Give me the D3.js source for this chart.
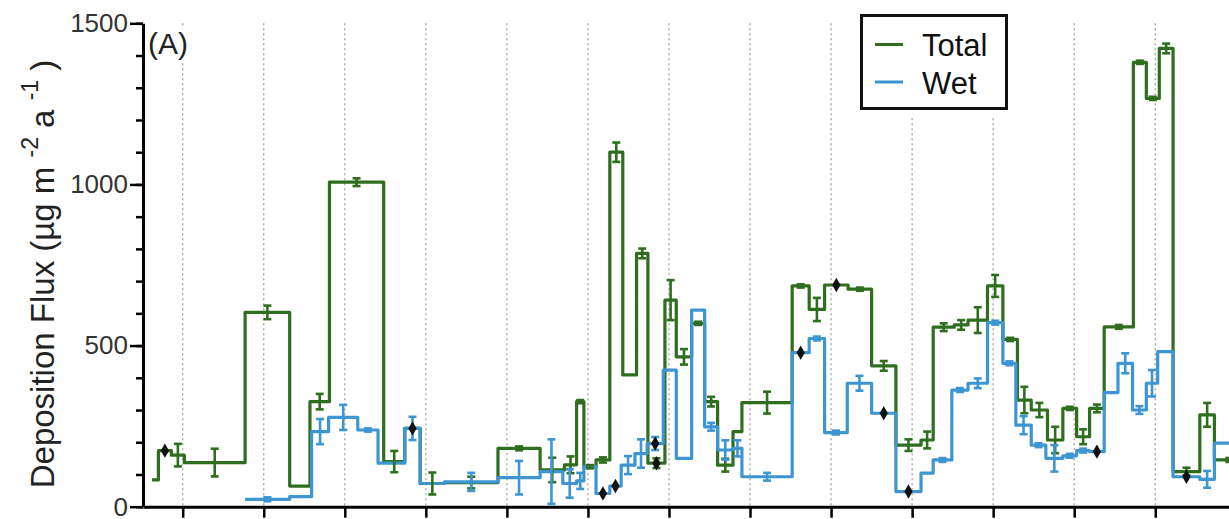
<html>
<head>
<meta charset="utf-8">
<title>Deposition Flux</title>
<script src="https://d3js.org/d3.v7.min.js"></script>
<style>
  body { margin: 0; background: white; }
  text { font-family: "Liberation Sans", Arial, sans-serif; }
</style>
</head>
<body>
<svg width="1229" height="519"></svg>
<script>
// step edges (x units, one tick = 10) and levels for each series
const totalEdges = [-3.8, -3.0, -1.4, 0.2, 7.7, 13.2, 15.7, 18.1, 24.8, 27.4, 29.3, 32.3, 38.9, 44.1, 47.1, 48.6, 49.5, 51.0, 52.7, 54.3, 56.0, 57.4, 59.5, 60.9, 62.8, 64.4, 66.0, 67.9, 69.0, 75.2, 77.3, 79.2, 82.1, 85.0, 88.0, 91.1, 92.6, 95.2, 96.9, 99.3, 101.2, 103.0, 104.7, 106.7, 108.6, 110.3, 111.9, 113.7, 117.3, 118.9, 120.5, 122.2, 125.5, 127.3, 131];
const totalFlux = [83, 174, 160, 137, 603, 64, 326, 1007, 140, 243, 72, 75, 181, 114, 130, 326, 124, 145, 1100, 409, 786, 135, 641, 465, 569, 326, 129, 233, 323, 685, 612, 688, 675, 437, 191, 207, 557, 564, 579, 685, 519, 331, 300, 207, 305, 217, 305, 558, 1379, 1267, 1422, 109, 285, 145];
const totalErr = [0, 0, 35, 43, 21, 0, 24, 12, 33, 0, 34, 18, 6, 38, 26, 5, 5, 8, 30, 0, 15, 15, 62, 24, 5, 15, 20, 0, 34, 5, 36, 0, 5, 15, 18, 26, 12, 15, 40, 34, 5, 41, 22, 41, 5, 23, 12, 6, 5, 5, 15, 12, 37, 6];
const totalDots = [1, 21, 31];

const wetEdges = [7.7, 13.2, 15.9, 18.0, 21.6, 24.1, 27.4, 29.3, 32.3, 38.9, 44.1, 46.9, 48.6, 49.5, 51.0, 52.7, 54.1, 55.8, 57.3, 59.3, 60.9, 62.8, 64.4, 66.0, 67.9, 69.0, 75.2, 77.3, 79.2, 82.0, 85.0, 88.0, 91.1, 92.6, 94.9, 96.9, 99.3, 101.2, 102.8, 104.7, 106.5, 108.6, 110.3, 111.9, 113.7, 115.4, 117.2, 118.9, 120.3, 122.2, 125.5, 127.3, 131];
const wetFlux = [23, 31, 233, 277, 238, 135, 243, 72, 77, 90, 109, 72, 80, 124, 41, 64, 129, 165, 196, 424, 150, 610, 248, 176, 181, 93, 478, 522, 230, 383, 290, 47, 104, 145, 362, 383, 571, 445, 253, 191, 150, 158, 174, 171, 354, 445, 300, 383, 481, 93, 85, 197];
const wetErr = [6, 0, 39, 39, 5, 0, 36, 0, 28, 52, 100, 44, 25, 0, 0, 0, 28, 44, 20, 0, 0, 0, 12, 30, 25, 12, 0, 6, 6, 23, 0, 0, 0, 6, 6, 15, 6, 6, 28, 6, 41, 6, 6, 0, 0, 31, 12, 41, 0, 0, 26, 0];
const wetDots = [6, 14, 15, 18, 26, 30, 31, 43, 49];

const yTicks = [0, 500, 1000, 1500];
const xTicks = d3.range(0, 121, 10);
const seriesNames = ["Total", "Wet"];
const colors = {Total: "#2f6e1f", Wet: "#3d96d2"};

const svg = d3.select("svg");
const x = d3.scaleLinear().domain([-4.9, 129.1]).range([143, 1229]);
const y = d3.scaleLinear().domain([0, 1500]).range([506.7, 23.3]);

svg.append("clipPath").attr("id", "plot")
  .append("rect").attr("x", 143).attr("y", 0).attr("width", 1090).attr("height", 519);

// dotted vertical grid
svg.append("g").selectAll("line").data(xTicks).enter().append("line")
  .attr("x1", d => x(d)).attr("x2", d => x(d))
  .attr("y1", y(1500)).attr("y2", y(0))
  .attr("stroke", "#9a9a9a").attr("stroke-width", 1.2)
  .attr("stroke-dasharray", "2,3");

function build(edges, flux, err) {
  return flux.map((v, i) => ({x0: edges[i], x1: edges[i + 1], v: v, e: err[i]}));
}
const total = build(totalEdges, totalFlux, totalErr);
const wet = build(wetEdges, wetFlux, wetErr);

const step = d3.line().curve(d3.curveStepAfter).x(d => x(d[0])).y(d => y(d[1]));
function pts(s) {
  const p = s.map(d => [d.x0, d.v]);
  p.push([s[s.length - 1].x1, s[s.length - 1].v]);
  return p;
}

const g = svg.append("g").attr("clip-path", "url(#plot)");
g.append("path").attr("d", step(pts(total))).attr("fill", "none")
  .attr("stroke", colors.Total).attr("stroke-width", 3.2).attr("stroke-linejoin", "round");
g.append("path").attr("d", step(pts(wet))).attr("fill", "none")
  .attr("stroke", colors.Wet).attr("stroke-width", 3.2).attr("stroke-linejoin", "round");

function errBars(s, col) {
  const eb = g.append("g").selectAll("g").data(s.filter(d => d.e > 0)).enter().append("g")
    .attr("stroke", col).attr("stroke-width", 2.6);
  const cx = d => x((d.x0 + d.x1) / 2);
  eb.append("line").attr("x1", cx).attr("x2", cx)
    .attr("y1", d => y(d.v - d.e)).attr("y2", d => y(d.v + d.e));
  eb.append("line").attr("x1", d => cx(d) - 4).attr("x2", d => cx(d) + 4)
    .attr("y1", d => y(d.v - d.e)).attr("y2", d => y(d.v - d.e));
  eb.append("line").attr("x1", d => cx(d) - 4).attr("x2", d => cx(d) + 4)
    .attr("y1", d => y(d.v + d.e)).attr("y2", d => y(d.v + d.e));
}
errBars(total, colors.Total);
errBars(wet, colors.Wet);

const dots = totalDots.map(i => total[i]).concat(wetDots.map(i => wet[i]));
g.append("g").selectAll("path").data(dots).enter().append("path")
  .attr("d", d3.symbol().type(d3.symbolDiamond).size(60))
  .attr("transform", d => `translate(${x((d.x0 + d.x1) / 2)},${y(d.v)})`)
  .attr("fill", "#111");

// axes
const yAxis = svg.append("g").attr("transform", "translate(143,0)")
  .call(d3.axisLeft(y).tickValues(yTicks).tickSize(13).tickSizeOuter(0).tickPadding(2)
    .tickFormat(d3.format("d")));
svg.append("g").attr("transform", "translate(143,0)")
  .call(d3.axisLeft(y).tickValues(d3.range(0, 1501, 100)).tickSize(7).tickFormat(""))
  .select(".domain").remove();
yAxis.selectAll("text").attr("font-size", 26).attr("fill", "#333")
  .attr("font-family", "'Liberation Sans', Arial, sans-serif");
svg.append("g").attr("transform", "translate(0,506.7)")
  .call(d3.axisBottom(x).tickValues(xTicks).tickSize(11).tickSizeOuter(0).tickFormat(""));
svg.selectAll(".domain").attr("stroke-width", 3);
svg.selectAll(".tick line").attr("stroke-width", 2.5);

// y label
const yl = svg.append("text").attr("transform", "translate(54,274) rotate(-90)")
  .attr("text-anchor", "middle").attr("font-size", 33).attr("fill", "#222");
yl.append("tspan").text("Deposition Flux (µg m ");
yl.append("tspan").attr("dy", -16).attr("font-size", 23).text("-2");
yl.append("tspan").attr("dy", 16).text(" a ");
yl.append("tspan").attr("dy", -16).attr("font-size", 23).text("-1");
yl.append("tspan").attr("dy", 16).text(" )");

// panel tag
svg.append("rect").attr("x", 147).attr("y", 26).attr("width", 50).attr("height", 36).attr("fill", "white");
svg.append("text").attr("x", 148).attr("y", 54).attr("font-size", 30).attr("fill", "#222").text("(A)");

// legend
const lg = svg.append("g");
lg.append("rect").attr("x", 855).attr("y", 12).attr("width", 158).attr("height", 106).attr("fill", "white");
lg.append("rect").attr("x", 861.5).attr("y", 15.5).attr("width", 145).attr("height", 93)
  .attr("fill", "white").attr("stroke", "#111").attr("stroke-width", 3);
seriesNames.forEach((s, i) => {
  lg.append("line").attr("x1", 875).attr("x2", 903).attr("y1", 44.5 + i * 37.5).attr("y2", 44.5 + i * 37.5)
    .attr("stroke", colors[s]).attr("stroke-width", 3);
  lg.append("text").attr("x", 922).attr("y", 56 + i * 37.5).attr("font-size", 31).attr("fill", "#111").text(s);
});
</script>
</body>
</html>
